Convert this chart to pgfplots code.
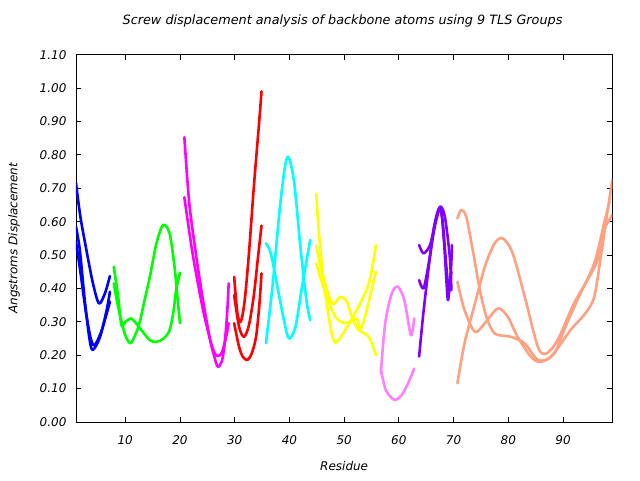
\documentclass[border=0pt]{standalone}
\usepackage{pgfplots}
\pgfplotsset{compat=1.18}
\usepackage{fontspec}
\setmainfont{DejaVu Sans}

\definecolor{gblue}{RGB}{0,0,255}
\definecolor{ggreen}{RGB}{0,255,0}
\definecolor{gmagenta}{RGB}{255,0,255}
\definecolor{gred}{RGB}{255,0,0}
\definecolor{gcyan}{RGB}{0,255,255}
\definecolor{gyellow}{RGB}{255,255,0}
\definecolor{gpink}{RGB}{255,128,255}
\definecolor{gpurple}{RGB}{128,0,255}
\definecolor{gsalmon}{RGB}{255,160,128}

\begin{document}
\begin{tikzpicture}[font=\fontsize{12}{14}\selectfont\itshape]
\path (0pt,0pt) rectangle (640pt,480pt);
\begin{axis}[
    at={(76pt,58pt)}, anchor=south west,
    scale only axis, width=536.3pt, height=367.3pt,
    xmin=1, xmax=99, ymin=0, ymax=1.1,
    xtick={10,20,...,90},
    ytick={0,0.1,...,1.1},
    tick pos=both, tick align=inside,
    major tick length=5pt,
    axis line style={line width=0.8pt},
    every tick/.style={black, line width=0.8pt},
    /pgf/number format/assume math mode=true,
    yticklabel style={/pgf/number format/fixed, /pgf/number format/fixed zerofill,
        /pgf/number format/precision=2, anchor=east, xshift=-6pt},
    xticklabel style={anchor=center, yshift=-18.5pt},
    title={Screw displacement analysis of backbone atoms using 9 TLS Groups},
    title style={at={(axis description cs:0.497,1.076)}, anchor=center, font=\fontsize{12.8}{15}\selectfont\itshape},
    xlabel={Residue},
    xlabel style={at={(axis description cs:0.5,-0.12)}, anchor=center},
    ylabel={Angstroms Displacement},
    ylabel style={at={(axis description cs:-0.1157,0.5)}, anchor=center},
    every axis plot/.append style={line width=2.6pt, smooth, tension=0.5, line join=round, line cap=round, no markers},
]
% group 1
\addplot[gblue] coordinates {(1,0.715)(1.8,0.615)(2.9,0.515)(4.1,0.415)(5.2,0.355)(6.3,0.386)(7.2,0.437)};
\addplot[gblue] coordinates {(1,0.585)(1.7,0.515)(2.6,0.365)(3.5,0.245)(4.1,0.216)(5.4,0.255)(6.6,0.335)(7.2,0.39)};
\addplot[gblue] coordinates {(1,0.54)(1.8,0.45)(2.8,0.33)(3.7,0.25)(4.4,0.23)(5.6,0.27)(6.7,0.33)(7.2,0.36)};
% group 2
\addplot[ggreen] coordinates {(7.9,0.465)(8.7,0.375)(9.3,0.29)(10,0.30)(11.1,0.31)(12,0.295)(13.2,0.27)(14.5,0.245)(15.7,0.24)(17,0.25)(18.1,0.275)(18.8,0.33)(19.3,0.395)(20,0.447)};
\addplot[ggreen] coordinates {(7.9,0.415)(8.7,0.345)(9.9,0.265)(10.9,0.236)(11.8,0.26)(12.6,0.296)(13.6,0.37)(14.5,0.435)(15.7,0.535)(16.9,0.59)(18.1,0.565)(19,0.465)(19.5,0.38)(20,0.296)};
% group 3
\addplot[gmagenta] coordinates {(20.8,0.853)(21.7,0.655)(22.9,0.505)(24.1,0.375)(25.4,0.255)(26.2,0.2)(26.9,0.166)(27.6,0.18)(28.1,0.225)(28.6,0.32)(28.9,0.415)};
\addplot[gmagenta] coordinates {(20.8,0.673)(22.3,0.505)(24.1,0.345)(25.7,0.235)(26.6,0.2)(27.3,0.2)(27.8,0.215)(28.5,0.26)(28.9,0.296)};
% group 4
\addplot[gred] coordinates {(29.9,0.435)(30.5,0.325)(31.1,0.30)(31.8,0.36)(32.6,0.505)(33.5,0.705)(34.5,0.905)(34.9,0.99)};
\addplot[gred] coordinates {(29.9,0.296)(30.8,0.225)(31.5,0.195)(32.3,0.186)(33.1,0.205)(33.9,0.255)(34.5,0.35)(34.9,0.445)};
\addplot[gred] coordinates {(29.9,0.38)(30.8,0.285)(31.7,0.255)(32.6,0.29)(33.5,0.38)(34.3,0.5)(34.9,0.588)};
% group 5
\addplot[gcyan] coordinates {(35.7,0.535)(36.6,0.505)(37.8,0.405)(39,0.305)(39.9,0.25)(41.1,0.285)(42.3,0.405)(43.8,0.545)};
\addplot[gcyan] coordinates {(35.7,0.236)(36.9,0.405)(38.4,0.665)(39.6,0.793)(40.8,0.725)(42,0.525)(43.1,0.365)(43.8,0.305)};
% group 6
\addplot[gyellow] coordinates {(44.9,0.683)(45.4,0.565)(46.3,0.415)(47.5,0.285)(48.3,0.238)(49.6,0.26)(52,0.326)(54.5,0.415)(55.8,0.53)};
\addplot[gyellow] coordinates {(44.9,0.53)(46,0.445)(47.8,0.355)(49.3,0.375)(50.5,0.36)(51.4,0.315)(52.6,0.276)(54.5,0.255)(55.8,0.2)};
\addplot[gyellow] coordinates {(44.9,0.475)(46.6,0.385)(48.4,0.315)(50.2,0.296)(52.3,0.31)(52.9,0.276)(53.8,0.315)(55,0.395)(55.8,0.45)};
% group 7
\addplot[gpink] coordinates {(56.7,0.146)(57.5,0.296)(58.7,0.385)(59.8,0.405)(61,0.365)(62.2,0.26)(62.8,0.31)};
\addplot[gpink] coordinates {(56.7,0.16)(57.5,0.10)(58.5,0.075)(59.3,0.066)(60.5,0.08)(61.8,0.12)(62.8,0.16)};
% group 8
\addplot[gpurple] coordinates {(63.7,0.53)(64.5,0.505)(65.7,0.53)(66.6,0.595)(67.5,0.645)(68.4,0.615)(69.3,0.495)(69.6,0.395)};
\addplot[gpurple] coordinates {(63.7,0.425)(64.5,0.40)(65.4,0.47)(66.5,0.58)(67.6,0.64)(68.2,0.55)(68.7,0.42)(69.0,0.365)(69.5,0.45)(69.7,0.53)};
\addplot[gpurple] coordinates {(63.7,0.196)(64.5,0.33)(65.5,0.47)(66.5,0.59)(67.4,0.64)(68,0.60)(68.6,0.48)(69.1,0.40)(69.6,0.45)};
% group 9
\addplot[gsalmon] coordinates {(70.7,0.61)(71.4,0.635)(72.3,0.615)(73.5,0.515)(74.8,0.395)(76,0.315)(77.5,0.265)(80.5,0.255)(83,0.235)(85.4,0.186)(87.8,0.196)(91.4,0.276)(94.1,0.326)(95.7,0.375)(96.9,0.495)(97.8,0.595)(99,0.725)};
\addplot[gsalmon] coordinates {(70.7,0.42)(72,0.335)(73.9,0.27)(75.7,0.296)(78.1,0.34)(79.9,0.315)(81.7,0.255)(84.1,0.196)(85.9,0.18)(88.4,0.205)(90.2,0.276)(92.6,0.365)(95.7,0.475)(97.5,0.595)(98.5,0.66)};
\addplot[gsalmon] coordinates {(70.7,0.116)(72,0.236)(73.9,0.355)(75.7,0.465)(77.5,0.535)(79,0.55)(80.8,0.505)(83,0.375)(85.4,0.225)(86.9,0.205)(89,0.245)(92,0.355)(94.8,0.435)(96.3,0.485)(97.5,0.575)(99,0.62)};
\end{axis}
\end{tikzpicture}
\end{document}
